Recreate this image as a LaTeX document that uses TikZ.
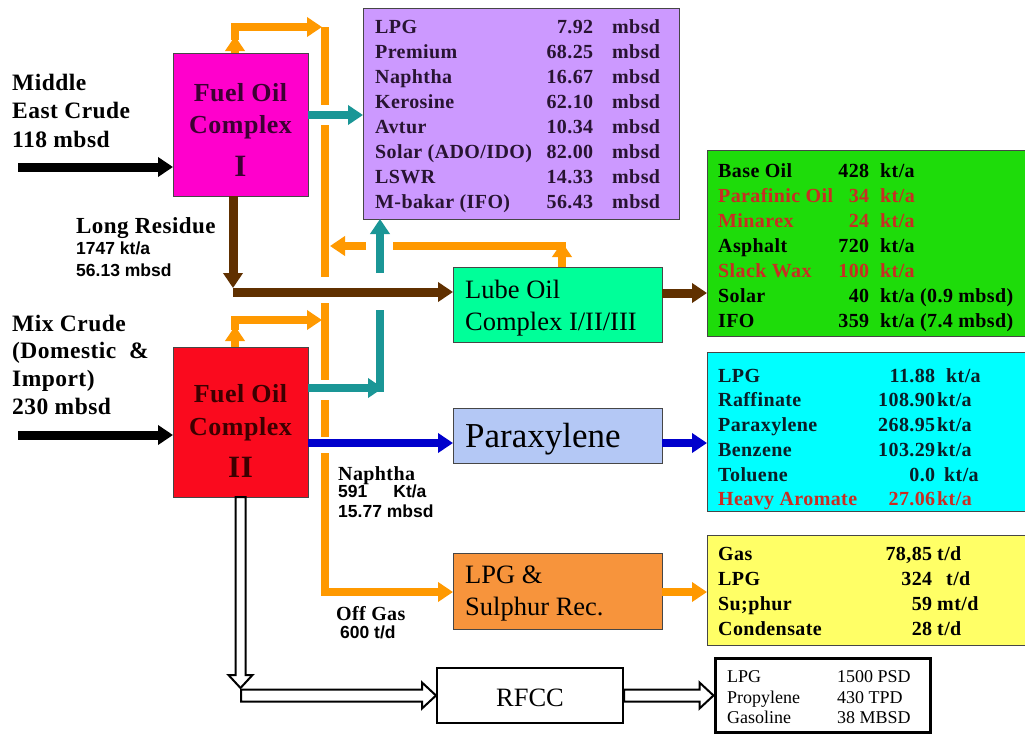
\documentclass[tikz,border=0pt]{standalone}
\usepackage{fontspec}
\setmainfont{Liberation Serif}[BoldFeatures={LetterSpace=2}]
\setsansfont{Liberation Sans}
\usetikzlibrary{arrows.meta,calc}

\definecolor{cOrange}{RGB}{255,153,0}
\definecolor{cTeal}{RGB}{26,150,150}
\definecolor{cBrown}{RGB}{96,48,0}
\definecolor{cBlue}{RGB}{0,0,204}
\definecolor{cPurple}{RGB}{204,153,255}
\definecolor{cMagenta}{RGB}{255,0,204}
\definecolor{cRed}{RGB}{250,10,30}
\definecolor{cLube}{RGB}{0,255,153}
\definecolor{cGreen}{RGB}{30,220,10}
\definecolor{cCyan}{RGB}{0,255,255}
\definecolor{cPara}{RGB}{180,200,245}
\definecolor{cLpg}{RGB}{247,148,60}
\definecolor{cYellow}{RGB}{255,255,102}
\definecolor{cRedTxt}{RGB}{200,45,35}
\definecolor{cBorder}{RGB}{70,70,70}
\definecolor{cPTxt}{RGB}{40,20,50}
\definecolor{cCTxt}{RGB}{10,30,40}

\newcommand\purrow[5]{\node[trow,text=cPTxt] (#1) at (375,#2) {\makebox[218pt][l]{#3}\llap{\addfontfeatures{LetterSpace=14}#4}\hspace{19pt}#5};}
\newcommand\grnrow[6][black]{\node[trow,text=#1] (#2) at (718,#3) {\makebox[151pt][l]{#4}\llap{#5}\hspace{11pt}#6};}
\newcommand\cyrow[6][cCTxt]{\node[trow,text=#1] (#2) at (718,#3) {\makebox[217pt][l]{#4}\llap{#5}\hspace{2pt}#6};}
\newcommand\yelrow[5]{\node[trow] (#1) at (718,#2) {\makebox[214pt][l]{#3}\llap{#4}\hspace{5pt}#5};}
\newcommand\outrow[4]{\node[orow] (#1) at (727,#2) {\makebox[110pt][l]{#3}#4};}

\begin{document}
\begin{tikzpicture}[x=1pt,y=-1pt,>={Triangle[length=15pt,width=19pt]},line join=miter,
  boxst/.style={draw=cBorder,line width=0.8pt,inner sep=0pt,outer sep=0pt},
  trow/.style={anchor=base west,inner sep=0pt,font=\fontsize{20}{24}\selectfont\bfseries},
  orow/.style={anchor=base west,inner sep=0pt,font=\fontsize{18}{20}\selectfont},
  lbl/.style={anchor=base west,inner sep=0pt,font=\fontsize{23.5}{28}\selectfont\bfseries},
  mlbl/.style={anchor=base west,inner sep=0pt,font=\fontsize{20}{24}\selectfont\bfseries},
  slbl/.style={anchor=base west,inner sep=0pt,font=\fontsize{17.5}{20}\selectfont\sffamily\bfseries},
  fotxt/.style={anchor=base,inner sep=0pt,font=\fontsize{26}{30}\selectfont\bfseries},
  fobig/.style={anchor=base,inner sep=0pt,font=\fontsize{31}{34}\selectfont\bfseries},
  unittxt/.style={anchor=base west,inner sep=0pt},
  orgL/.style={draw=cOrange,line width=8pt},
  orgA/.style={orgL,->},
  tealL/.style={draw=cTeal,line width=8pt},
  tealA/.style={tealL,->},
  brnA/.style={draw=cBrown,line width=9pt,->},
  bluA/.style={draw=cBlue,line width=8pt,->},
  blkA/.style={draw=black,line width=9pt,->},
  dbl/.style={draw=black,fill=white,line width=2pt,line join=miter}]

\fill[white] (0,0) rectangle (1025,734);
\useasboundingbox (0,0) rectangle (1025,734);

% ---------- boxes ----------
\node[boxst,fill=cMagenta,minimum width=135pt,minimum height=143pt] (fo1) at (240.5,124.5) {};
\node[boxst,fill=cRed,minimum width=135pt,minimum height=150pt] (fo2) at (240.5,422) {};
\node[boxst,fill=cPurple,minimum width=316pt,minimum height=211pt] (pur) at (521,113.5) {};
\node[boxst,fill=cLube,minimum width=209pt,minimum height=75pt] (lube) at (557.5,304.5) {};
\node[boxst,fill=cPara,minimum width=209pt,minimum height=55pt] (para) at (557.5,435.5) {};
\node[boxst,fill=cLpg,minimum width=209pt,minimum height=76pt] (lpg) at (557.5,591) {};
\node[boxst,fill=cGreen,minimum width=319pt,minimum height=186pt] (grn) at (866.5,243) {};
\node[boxst,fill=cCyan,minimum width=319pt,minimum height=159pt] (cyan) at (866.5,431.5) {};
\node[boxst,fill=cYellow,minimum width=319pt,minimum height=110pt] (yel) at (866.5,590) {};
\node[draw=black,line width=2pt,fill=white,inner sep=0pt,minimum width=186pt,minimum height=55pt] (rfcc) at (530,695.5) {};
\node[draw=black,line width=3pt,fill=white,inner sep=0pt,minimum width=215pt,minimum height=74pt] (out) at (822.5,695) {};

% ---------- box texts ----------
\node[fotxt,text={rgb,255:red,60;green,0;blue,50}] (fo1a) at (240.5,101) {Fuel Oil};
\node[fotxt,text={rgb,255:red,60;green,0;blue,50}] (fo1b) at (240.5,133) {Complex};
\node[fobig,text={rgb,255:red,60;green,0;blue,50}] (fo1c) at (240.5,176) {I};
\node[fotxt,text={rgb,255:red,60;green,0;blue,0}] (fo2a) at (240.5,402) {Fuel Oil};
\node[fotxt,text={rgb,255:red,60;green,0;blue,0}] (fo2b) at (240.5,435) {Complex};
\node[fobig,text={rgb,255:red,60;green,0;blue,0}] (fo2c) at (240.5,477) {II};

\node[unittxt,font=\fontsize{26.5}{30}\selectfont] (lubea) at (465,298) {Lube Oil};
\node[unittxt,font=\fontsize{26.5}{30}\selectfont] (lubeb) at (465,330) {Complex I/II/III};
\node[unittxt,font=\fontsize{35}{40}\selectfont] (parat) at (465,447) {Paraxylene};
\node[unittxt,font=\fontsize{26.5}{30}\selectfont] (lpga) at (465,583) {LPG \&};
\node[unittxt,font=\fontsize{26.5}{30}\selectfont] (lpgb) at (465,615) {Sulphur Rec.};
\node[anchor=base,inner sep=0pt,font=\fontsize{26.5}{30}\selectfont] (rfcct) at (530,706) {RFCC};

% purple table
\purrow{p1}{33}{LPG}{7.92}{mbsd}
\purrow{p2}{58}{Premium}{68.25}{mbsd}
\purrow{p3}{83}{Naphtha}{16.67}{mbsd}
\purrow{p4}{108}{Kerosine}{62.10}{mbsd}
\purrow{p5}{133}{Avtur}{10.34}{mbsd}
\purrow{p6}{158}{Solar (ADO/IDO)}{82.00}{mbsd}
\purrow{p7}{183}{LSWR}{14.33}{mbsd}
\purrow{p8}{208}{M-bakar (IFO)}{56.43}{mbsd}

% green table
\grnrow{g1}{177}{Base Oil}{428}{kt/a}
\grnrow[cRedTxt]{g2}{202}{Parafinic Oil}{34}{kt/a}
\grnrow[cRedTxt]{g3}{227}{Minarex}{24}{kt/a}
\grnrow{g4}{252}{Asphalt}{720}{kt/a}
\grnrow[cRedTxt]{g5}{277}{Slack Wax}{100}{kt/a}
\grnrow{g6}{302}{Solar}{40}{kt/a (0.9 mbsd)}
\grnrow{g7}{327}{IFO}{359}{kt/a (7.4 mbsd)}

% cyan table
\cyrow{c1}{382}{LPG}{11.88}{\hspace{9pt}kt/a}
\cyrow{c2}{406}{Raffinate}{108.90}{kt/a}
\cyrow{c3}{431}{Paraxylene}{268.95}{kt/a}
\cyrow{c4}{456}{Benzene}{103.29}{kt/a}
\cyrow{c5}{481}{Toluene}{0.0}{\hspace{7pt}kt/a}
\cyrow[cRedTxt]{c6}{505}{Heavy Aromate}{27.06}{kt/a}

% yellow table
\yelrow{y1}{560}{Gas}{78,85}{t/d}
\yelrow{y2}{585}{LPG}{324}{\hspace{9pt}t/d}
\yelrow{y3}{610}{Su;phur}{59}{mt/d}
\yelrow{y4}{635}{Condensate}{28}{t/d}

% output table
\outrow{o1}{682}{LPG}{1500 PSD}
\outrow{o2}{703}{Propylene}{430 TPD}
\outrow{o3}{723}{Gasoline}{38 MBSD}

% ---------- free labels ----------
\node[lbl] (me1) at (12,90) {Middle};
\node[lbl] (me2) at (12,118) {East Crude};
\node[lbl] (me3) at (12,147) {118 mbsd};
\node[lbl] (mx1) at (12,331) {Mix Crude};
\node[lbl] (mx2) at (12,358) {(Domestic \ \&};
\node[lbl] (mx3) at (12,386) {Import)};
\node[lbl] (mx4) at (12,414) {230 mbsd};
\node[lbl,font=\fontsize{23}{28}\selectfont\bfseries] (lr1) at (76,233) {Long Residue};
\node[slbl] (lr2) at (76,254) {1747 kt/a};
\node[slbl] (lr3) at (76,276) {56.13 mbsd};
\node[mlbl] (np1) at (338,480) {Naphtha};
\node[slbl] (np2) at (338,497) {591\hspace{26pt}Kt/a};
\node[slbl] (np3) at (338,517) {15.77 mbsd};
\node[mlbl] (og1) at (336,620) {Off Gas};
\node[slbl] (og2) at (340,638) {600 t/d};

% ---------- coordinates ----------
\coordinate (in1) at (18,167);
\coordinate (in2) at (18,435);
\coordinate (ty1) at (0,115);
\coordinate (t2e) at (383,388);
\coordinate (t3) at (380,273);
\coordinate (bx) at (233,0);
\coordinate (b1) at (233,288);
\coordinate (b2) at (233,292);
\coordinate (b3) at (0,293);
\coordinate (bl) at (0,443);
\coordinate (ov) at (325,0);
\coordinate (og) at (0,592);
\coordinate (fx) at (235,0);
\coordinate (lx) at (562,0);

% ---------- black inputs ----------
\draw[blkA] (in1) -- (in1 -| fo1.west);
\draw[blkA] (in2) -- (in2 -| fo2.west);

% ---------- orange network ----------
\draw[orgL] (325,27) -- (325,105);
\draw[orgL] (325,125) -- (325,277);
\draw[orgL] (325,303) -- (325,380);
\draw[orgL] (325,400) -- (325,437);
\draw[orgA] (325,453) -- (ov |- og) -- (lpg.west |- og);
\draw[orgA] (lpg.east |- og) -- (yel.west |- og);
\draw[orgA] (fo1.north -| fx) -- (235,36);
\draw[orgA] (235,40) -- (235,27) -- (322,27);
\draw[orgA] (fo2.north -| fx) -- (235,326);
\draw[orgA] (235,330) -- (235,320) -- (322,320);
\draw[orgA] (lube.north -| lx) -- (562,242);
\draw[orgL] (566,246) -- (393,246);
\draw[orgA] (366,246) -- (330,246);

% ---------- teal ----------
\draw[tealA] (fo1.east |- ty1) -- (pur.west |- ty1);
\draw[tealA] (fo2.east |- t2e) -- (t2e);
\draw[tealL] (380,392) -- (380,310);
\draw[tealA] (t3) -- (t3 |- pur.south);

% ---------- brown ----------
\draw[brnA] (fo1.south -| bx) -- (b1);
\draw[brnA] (b2) -- (b2 -| lube.west);
\draw[brnA] (lube.east |- b3) -- (grn.west |- b3);

% ---------- blue ----------
\draw[bluA] (fo2.east |- bl) -- (para.west |- bl);
\draw[bluA] (para.east |- bl) -- (cyan.west |- bl);

% ---------- white double arrows ----------
\draw[dbl] ($(fo2.south)+(-5,0)$) -- ++(0,178) -- ++(-7,0) -- ++(12,13) -- ++(12,-13) -- ++(-7,0) -- ($(fo2.south)+(5,0)$) -- cycle;
\draw[dbl] (241,689.5) -- ($(rfcc.west)+(-14,-6)$) -- ++(0,-7) -- (rfcc.west) -- ++(-14,13) -- ++(0,-7) -- (241,701.5) -- cycle;
\draw[dbl] ($(rfcc.east)+(0,-6)$) -- ($(out.west |- rfcc.east)+(-14,-6)$) -- ++(0,-7) -- (out.west |- rfcc.east) -- ++(-14,13) -- ++(0,-7) -- ($(rfcc.east)+(0,6)$) -- cycle;

\end{tikzpicture}
\end{document}
